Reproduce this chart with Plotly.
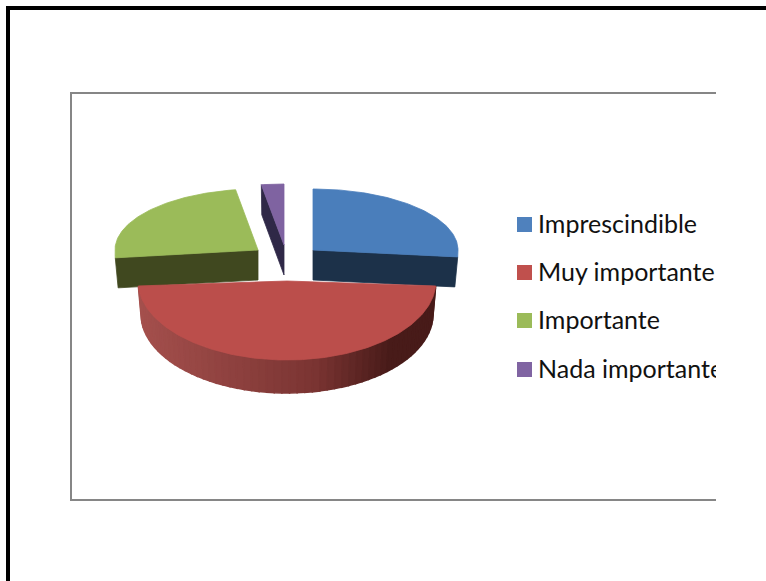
import math
import plotly.graph_objects as go

# (percent of answers)
labels = ["Imprescindible", "Muy importante", "Importante", "Nada importante"]
values = [26, 48, 23.5, 2.5]

# Colors
TOP = ["#4A7EBB", "#BB4E4B", "#9BBB59", "#7F63A1"]
WALL = ["#1C3149", None, "#40481F", "#2F2847"]
LEGEND = ["#4F81BD", "#C0504D", "#9BBB59", "#8064A2"]
RIM_LEFT = (165, 80, 77)
RIM_MID = (122, 52, 50)
RIM_RIGHT = (72, 27, 25)
FRAME = "#868686"

# Pie geometry in page pixels: apex of each exploded slice, horizontal radius,
# radius of the far and near half (the tilt squashes them differently), wall height
APEX = [(313, 250), (287, 281), (258, 250), (284, 245)]
RADIUS = [145, 149, 143, 145]
FAR = 61
NEAR = [110, 79, 125, 79]
DEPTH = [30, 33, 30, 30]
BOTTOM_SCALE = 0.98

LEGEND_Y = [224.5, 272.5, 320.5, 369.5]
LEGEND_TEXT_Y = [226.5, 274.5, 322.5, 371.5]


def rim_point(i, deg, drop=0, scale=1.0):
    t = math.radians(deg)
    cx, cy = APEX[i]
    b = FAR if math.cos(t) > 0 else NEAR[i]
    return cx + RADIUS[i] * scale * math.sin(t), cy + drop + b * math.cos(t) * -1


def arc(i, start, end, drop=0, scale=1.0):
    n = max(2, int(abs(end - start)) + 1)
    pts = [rim_point(i, start + (end - start) * k / (n - 1), drop, scale) for k in range(n)]
    return pts


def poly(fig, pts, color, name=None, width=0.8):
    fig.add_trace(go.Scatter(
        x=[p[0] for p in pts] + [pts[0][0]],
        y=[p[1] for p in pts] + [pts[0][1]],
        mode="lines",
        fill="toself",
        fillcolor=color,
        line=dict(color=color, width=width),
        hoverinfo="skip" if name is None else "name",
        name=name or "",
        showlegend=False,
    ))


def mix(c1, c2, f):
    return "rgb(%d,%d,%d)" % tuple(round(a + (b - a) * f) for a, b in zip(c1, c2))


def rim_color(f):
    # dark from the middle rightwards, fading to a lighter red on the left
    if f < 0.6:
        return mix(RIM_LEFT, RIM_MID, f / 0.6)
    return mix(RIM_MID, RIM_RIGHT, min(1, (f - 0.6) / 0.25))


fig = go.Figure()

# slice angles, clockwise from twelve o'clock
total = sum(values)
angles = [0]
for v in values:
    angles.append(angles[-1] + v / total * 360)

# back slices first, red one on top of them
for i in [3, 2, 0, 1]:
    start, end = angles[i], angles[i + 1]
    cx, cy = APEX[i]
    if i == 1:
        # curved rim, split in strips for the shading
        a0 = rim_point(i, end)[0]
        a1 = rim_point(i, start)[0]
        for d in range(int(end), int(start), -3):
            d2 = max(d - 3, start)
            f = (rim_point(i, (d + d2) / 2)[0] - a0) / (a1 - a0)
            pts = arc(i, d, d2) + arc(i, d2, d, DEPTH[i], BOTTOM_SCALE)
            poly(fig, pts, rim_color(f), width=1.5)
    else:
        edge = end if i == 0 else start
        top = rim_point(i, edge)
        bot = rim_point(i, edge, DEPTH[i], BOTTOM_SCALE)
        poly(fig, [(cx, cy), top, bot, (cx, cy + DEPTH[i])], WALL[i])
    poly(fig, [(cx, cy)] + arc(i, start, end), TOP[i], labels[i])

# legend drawn in the plot so the right edge of the chart area cuts the text
fig.add_trace(go.Scatter(
    x=[524.5] * len(labels),
    y=LEGEND_Y,
    mode="markers",
    marker=dict(symbol="square", size=15, color=LEGEND, line=dict(width=0)),
    hoverinfo="skip",
    showlegend=False,
))
fig.add_trace(go.Scatter(
    x=[538] * len(labels),
    y=LEGEND_TEXT_Y,
    mode="text",
    text=labels,
    textposition="middle right",
    textfont=dict(family="Lato", size=25, color="#111111"),
    hoverinfo="skip",
    showlegend=False,
    cliponaxis=True,
))

PAGE_W, PAGE_H, CLIP_W = 766, 581, 716
shapes = [
    # thick black border, top and left only
    dict(type="line", xref="paper", yref="y", x0=6 / CLIP_W, x1=PAGE_W / CLIP_W, y0=8, y1=8,
         line=dict(color="black", width=4)),
    dict(type="line", xref="x", yref="y", x0=8, x1=8, y0=6, y1=PAGE_H,
         line=dict(color="black", width=4)),
    # gray chart area, open on the right
    dict(type="line", xref="x", yref="y", x0=71, x1=71, y0=92, y1=500,
         line=dict(color=FRAME, width=2)),
    dict(type="line", xref="x", yref="y", x0=70, x1=CLIP_W, y0=93, y1=93,
         line=dict(color=FRAME, width=2)),
    dict(type="line", xref="x", yref="y", x0=70, x1=CLIP_W, y0=500, y1=500,
         line=dict(color=FRAME, width=2)),
]

fig.update_layout(
    width=PAGE_W,
    height=PAGE_H,
    margin=dict(l=0, r=PAGE_W - CLIP_W, t=0, b=0),
    plot_bgcolor="white",
    paper_bgcolor="white",
    showlegend=False,
    shapes=shapes,
    xaxis=dict(range=[0, CLIP_W], visible=False, fixedrange=True),
    yaxis=dict(range=[PAGE_H, 0], visible=False, fixedrange=True),
)

# the page's default body margin would push everything 8px down and right
fig.write_html("out.html", config=dict(displayModeBar=False),
               post_script="document.body.style.margin = '0'; document.body.style.overflow = 'hidden';")
